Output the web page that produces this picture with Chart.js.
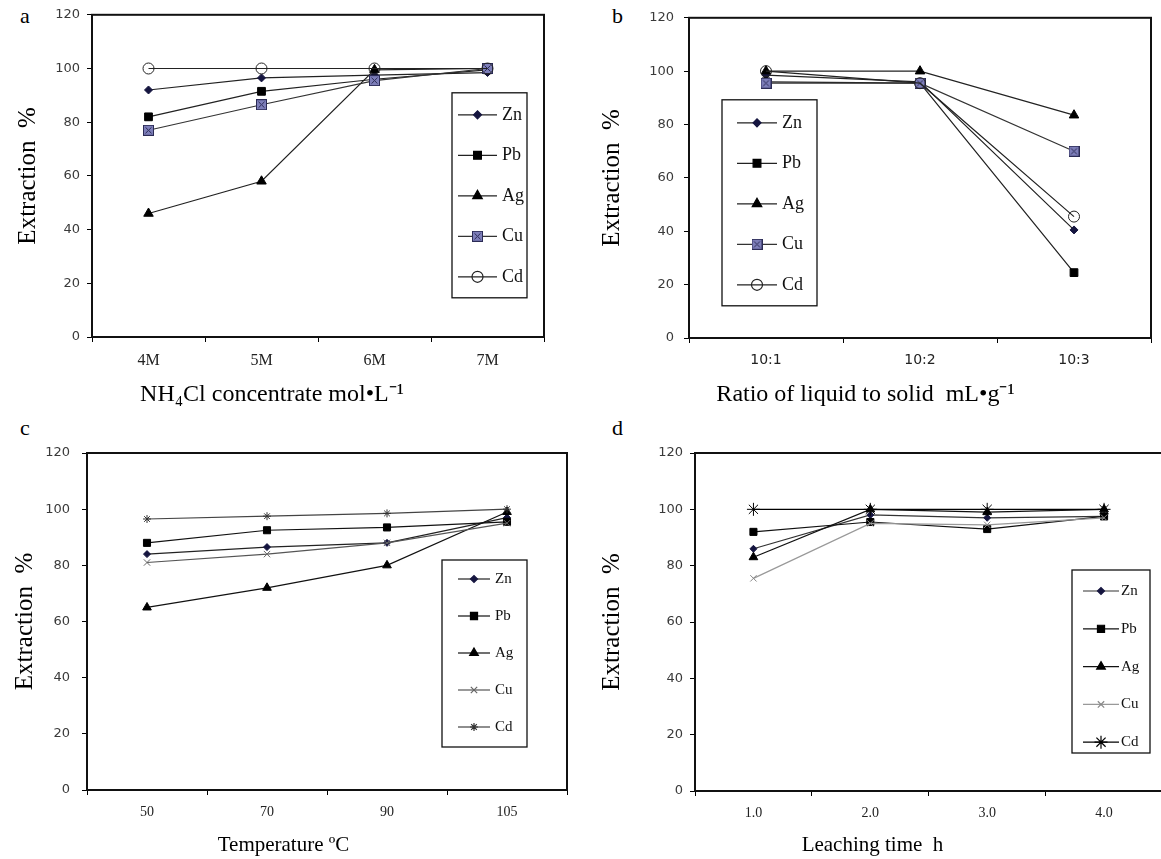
<!DOCTYPE html>
<html>
<head>
<meta charset="utf-8">
<script src="https://cdn.jsdelivr.net/npm/chart.js@4.4.1/dist/chart.umd.min.js"></script>
<style>
html, body { margin: 0; padding: 0; background: #fff; overflow: hidden; width: 1161px; height: 859px; }
canvas { position: absolute; }
.tag { position: absolute; font-family: "Liberation Serif", serif; font-size: 22px; line-height: 22px; color: #000; }
</style>
</head>
<body>
<div class="tag" style="left:20px;top:5px">a</div>
<div class="tag" style="left:612px;top:5px">b</div>
<div class="tag" style="left:20px;top:417px">c</div>
<div class="tag" style="left:612px;top:417px">d</div>
<canvas id="chartA" width="580" height="420" style="left:0;top:0"></canvas>
<canvas id="chartB" width="581" height="420" style="left:580px;top:0"></canvas>
<canvas id="chartC" width="580" height="439" style="left:0;top:420px"></canvas>
<canvas id="chartD" width="590" height="439" style="left:580px;top:420px"></canvas>
<script>
var metals = ['Zn', 'Pb', 'Ag', 'Cu', 'Cd'];

// a - NH4Cl concentration
var concLabels = ['4M', '5M', '6M', '7M'];
var concZn = [92, 96.5, 97.5, 98.5];
var concPb = [82, 91.5, 96, 99.5];
var concAg = [46, 58, 99.5, 100];
var concCu = [77, 86.5, 95.5, 100];
var concCd = [100, 100, 100, 100];

// b - ratio of liquid to solid
var ratioLabels = ['10:1', '10:2', '10:3'];
var ratioZn = [98.5, 96, 40.5];
var ratioPb = [96, 95.5, 24.5];
var ratioAg = [100, 100, 83.5];
var ratioCu = [95.5, 95.5, 70];
var ratioCd = [100, 95.5, 45.5];

// c - temperature
var tempLabels = ['50', '70', '90', '105'];
var tempZn = [84, 86.5, 88, 97];
var tempPb = [88, 92.5, 93.5, 95.5];
var tempAg = [65, 72, 80, 99];
var tempCu = [81, 84, 88, 95];
var tempCd = [96.5, 97.5, 98.5, 100];

// d - leaching time
var timeLabels = ['1.0', '2.0', '3.0', '4.0'];
var timeZn = [86, 98, 97, 97.5];
var timePb = [92, 95.5, 93, 97.5];
var timeAg = [83, 100, 99, 100];
var timeCu = [75.5, 95, 94.5, 97];
var timeCd = [100, 100, 100, 100];

var serif = '"Liberation Serif", "Times New Roman", serif';
var sans = '"DejaVu Sans", sans-serif';

// blue square with a cross, like the Excel marker
var cuMarker = () => {
    var c = document.createElement('canvas');
    c.width = 11; c.height = 11;
    var g = c.getContext('2d');
    g.fillStyle = '#7d7eb9';
    g.fillRect(0.5, 0.5, 10, 10);
    g.strokeStyle = '#2b2b55';
    g.lineWidth = 1;
    g.strokeRect(0.5, 0.5, 10, 10);
    g.beginPath();
    g.moveTo(2.5, 2.5); g.lineTo(8.5, 8.5);
    g.moveTo(8.5, 2.5); g.lineTo(2.5, 8.5);
    g.stroke();
    return c;
};

var stylesTop = [
    { pointStyle: 'rectRot', pointRadius: 4, pointBackgroundColor: '#15153f', pointBorderColor: '#15153f', borderColor: '#222' },
    { pointStyle: 'rect', pointRadius: 5.5, pointBackgroundColor: '#000', pointBorderColor: '#000', borderColor: '#222' },
    { pointStyle: 'triangle', pointRadius: 5.5, pointBackgroundColor: '#000', pointBorderColor: '#000', borderColor: '#222' },
    { pointStyle: cuMarker(), pointRadius: 5.5, pointBackgroundColor: '#7d7eb9', pointBorderColor: '#2b2b55', borderColor: '#333' },
    { pointStyle: 'circle', pointRadius: 5.5, pointBackgroundColor: 'rgba(0,0,0,0)', pointBorderColor: '#222', borderColor: '#222' }
];
var stylesC = [
    { pointStyle: 'rectRot', pointRadius: 3.5, pointBackgroundColor: '#15153f', pointBorderColor: '#15153f', borderColor: '#222' },
    { pointStyle: 'rect', pointRadius: 5, pointBackgroundColor: '#000', pointBorderColor: '#000', borderColor: '#111' },
    { pointStyle: 'triangle', pointRadius: 5, pointBackgroundColor: '#000', pointBorderColor: '#000', borderColor: '#111' },
    { pointStyle: 'crossRot', pointRadius: 4.5, pointBackgroundColor: '#666', pointBorderColor: '#666', borderColor: '#555' },
    { pointStyle: 'star', pointRadius: 4, pointBackgroundColor: '#333', pointBorderColor: '#333', borderColor: '#444' }
];
var stylesD = [
    { pointStyle: 'rectRot', pointRadius: 3.5, pointBackgroundColor: '#15153f', pointBorderColor: '#15153f', borderColor: '#333' },
    { pointStyle: 'rect', pointRadius: 5, pointBackgroundColor: '#000', pointBorderColor: '#000', borderColor: '#111' },
    { pointStyle: 'triangle', pointRadius: 5, pointBackgroundColor: '#000', pointBorderColor: '#000', borderColor: '#111' },
    { pointStyle: 'crossRot', pointRadius: 4.5, pointBackgroundColor: '#888', pointBorderColor: '#888', borderColor: '#999' },
    { pointStyle: 'star', pointRadius: 6.5, pointBackgroundColor: '#000', pointBorderColor: '#000', borderColor: '#000' }
];

// box round the plot area
var frame = {
    id: 'frame',
    beforeDatasetsDraw(chart) {
        var a = chart.chartArea, ctx = chart.ctx;
        ctx.save();
        ctx.strokeStyle = '#111';
        ctx.lineWidth = 2;
        ctx.strokeRect(a.left, a.top, a.right - a.left, a.bottom - a.top);
        ctx.restore();
    }
};

// legend drawn in a bordered box inside the plot
var boxLegend = {
    id: 'boxLegend',
    afterDraw(chart, args, o) {
        var ctx = chart.ctx, a = chart.chartArea;
        var x0 = a.left + o.x, y0 = a.top + o.y;
        ctx.save();
        ctx.fillStyle = '#fff';
        ctx.fillRect(x0, y0, o.w, o.h);
        ctx.strokeStyle = '#111';
        ctx.lineWidth = 1.3;
        ctx.strokeRect(x0, y0, o.w, o.h);
        chart.data.datasets.forEach((ds, i) => {
            var cy = y0 + o.first + i * o.step;
            ctx.strokeStyle = ds.borderColor;
            ctx.lineWidth = ds.borderWidth;
            ctx.beginPath();
            ctx.moveTo(x0 + o.lineX, cy);
            ctx.lineTo(x0 + o.lineX + o.lineW, cy);
            ctx.stroke();
            ctx.fillStyle = ds.pointBackgroundColor;
            ctx.strokeStyle = ds.pointBorderColor;
            Chart.helpers.drawPoint(ctx, { pointStyle: ds.pointStyle, radius: ds.pointRadius, rotation: 0, borderWidth: 1 },
                x0 + o.lineX + o.lineW / 2, cy);
            ctx.fillStyle = '#111';
            ctx.font = o.font;
            ctx.textBaseline = 'middle';
            ctx.textAlign = 'left';
            ctx.fillText(ds.label, x0 + o.textX, cy);
        });
        ctx.restore();
    }
};

var makePanel = (id, p) => {
    var ctx = document.getElementById(id).getContext('2d');
    return new Chart(ctx, {
        type: 'line',
        data: {
            labels: p.labels,
            datasets: p.values.map((d, i) => Object.assign({
                label: metals[i],
                data: d,
                order: -i,
                borderWidth: 1.2,
                pointBorderWidth: 1,
                tension: 0
            }, p.styles[i]))
        },
        options: {
            responsive: false,
            animation: false,
            events: [],
            layout: { padding: p.pad },
            plugins: {
                legend: { display: false },
                tooltip: { enabled: false },
                title: {
                    display: true, position: 'bottom', text: p.xTitle, color: '#000',
                    font: { family: serif, size: p.xTitleSize, weight: 'normal' },
                    padding: { top: 0, bottom: p.xTitlePad }
                },
                boxLegend: p.legend
            },
            scales: {
                x: {
                    offset: true,
                    grid: { offset: true, drawOnChartArea: false, tickLength: 5, color: '#000' },
                    border: { color: '#111', width: 2 },
                    ticks: { color: '#222', font: p.xTickFont, padding: 9, maxRotation: 0 },
                    afterFit: (s) => { s.height = p.xH; }
                },
                y: {
                    min: 0, max: 120,
                    ticks: { stepSize: 20, color: '#3a3a3a', font: { family: sans, size: 13 }, padding: p.yTickPad },
                    grid: { drawOnChartArea: false, tickLength: 5, color: '#000' },
                    border: { color: '#111', width: 2 },
                    title: {
                        display: true, text: 'Extraction  %', color: '#000',
                        font: { family: serif, size: 25 },
                        padding: { top: p.yTitlePad, bottom: 0 }
                    },
                    afterFit: (s) => { s.width = p.yW; }
                }
            }
        },
        plugins: [frame, boxLegend]
    });
};

makePanel('chartA', {
    labels: concLabels,
    values: [concZn, concPb, concAg, concCu, concCd],
    styles: stylesTop,
    pad: { left: 0, top: 14, right: 36, bottom: 0 },
    yW: 92, xH: 43.6, yTickPad: 7, yTitlePad: 13,
    xTitle: 'NH\u2084Cl concentrate mol\u2022L\u207B\u00B9', xTitleSize: 24, xTitlePad: 10.6,
    xTickFont: { family: serif, size: 16 },
    legend: { x: 360, y: 78, w: 75, h: 205, first: 22, step: 40.5, lineX: 6, lineW: 39, textX: 50, font: '18px ' + serif }
});

makePanel('chartB', {
    labels: ratioLabels,
    values: [ratioZn, ratioPb, ratioAg, ratioCu, ratioCd],
    styles: stylesTop,
    pad: { left: 0, top: 16, right: 10, bottom: 0 },
    yW: 109, xH: 42.6, yTickPad: 10, yTitlePad: 17,
    xTitle: 'Ratio of liquid to solid  mL\u2022g\u207B\u00B9', xTitleSize: 24, xTitlePad: 10.6,
    xTickFont: { family: sans, size: 14 },
    legend: { x: 33, y: 82, w: 95, h: 206, first: 23, step: 40.5, lineX: 15, lineW: 40, textX: 60, font: '18px ' + serif }
});

makePanel('chartC', {
    labels: tempLabels,
    values: [tempZn, tempPb, tempAg, tempCu, tempCd],
    styles: stylesC,
    pad: { left: 0, top: 33, right: 13, bottom: 0 },
    yW: 87, xH: 42.8, yTickPad: 12, yTitlePad: 10,
    xTitle: 'Temperature \u00BAC', xTitleSize: 21, xTitlePad: 1,
    xTickFont: { family: serif, size: 14 },
    legend: { x: 355, y: 107, w: 85, h: 187, first: 19, step: 37, lineX: 16, lineW: 32, textX: 53, font: '15px ' + serif }
});

makePanel('chartD', {
    labels: timeLabels,
    values: [timeZn, timePb, timeAg, timeCu, timeCd],
    styles: stylesD,
    pad: { left: 0, top: 33, right: 5, bottom: 0 },
    yW: 115, xH: 41.8, yTickPad: 7, yTitlePad: 17,
    xTitle: 'Leaching time  h', xTitleSize: 21, xTitlePad: 1,
    xTickFont: { family: serif, size: 14 },
    legend: { x: 377, y: 117, w: 78, h: 183, first: 21, step: 37.8, lineX: 11, lineW: 36, textX: 49, font: '15px ' + serif }
});
</script>
</body>
</html>
